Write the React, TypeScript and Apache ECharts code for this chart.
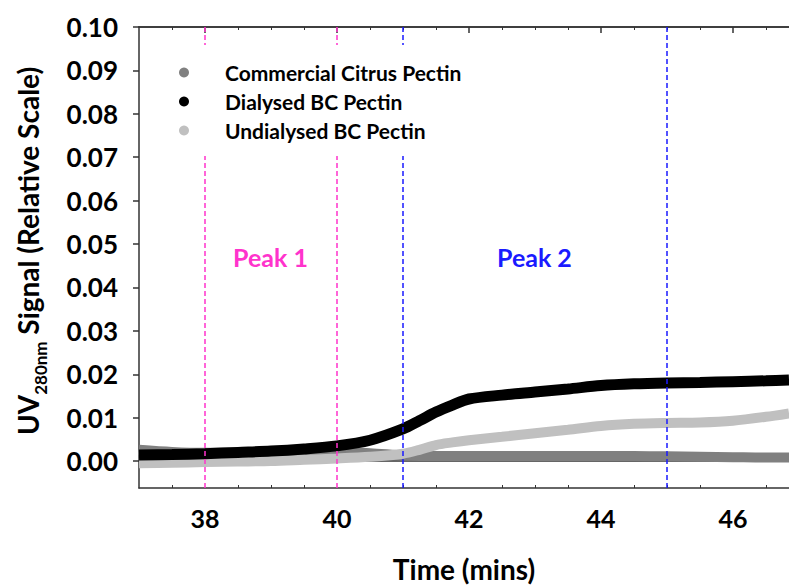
import React, { useEffect, useRef } from "react";
import * as echarts from "echarts";

const timeMins = [37, 37.5, 38, 38.5, 39, 39.5, 40, 40.5, 41, 41.25, 41.5, 41.75, 42, 42.5, 43, 43.5, 44, 44.5, 45, 45.5, 46, 46.5, 46.85];
const commercialCitrus = [0.0026, 0.0021, 0.0019, 0.0019, 0.0019, 0.002, 0.0021, 0.0018, 0.0013, 0.0012, 0.0012, 0.0012, 0.0012, 0.0012, 0.0012, 0.0012, 0.0012, 0.0012, 0.0011, 0.001, 0.0009, 0.0008, 0.0008];
const dialysedBC = [0.0014, 0.0015, 0.0017, 0.002, 0.0023, 0.0028, 0.0035, 0.0048, 0.0074, 0.0093, 0.0113, 0.0129, 0.0143, 0.0152, 0.0159, 0.0166, 0.0174, 0.0178, 0.018, 0.0181, 0.0183, 0.0185, 0.0187];
const undialysedBC = [-0.0005, -0.0004, -0.0002, -0.0001, 0.0, 0.0003, 0.0006, 0.001, 0.0017, 0.0026, 0.0037, 0.0043, 0.0048, 0.0056, 0.0064, 0.0072, 0.0081, 0.0086, 0.0088, 0.0089, 0.0093, 0.0102, 0.011];

const seriesNames = ["Commercial Citrus Pectin", "Dialysed BC Pectin", "Undialysed BC Pectin"];
const xMajorTicks = [38, 40, 42, 44, 46];
const xMinorTicks = [37.5, 38.5, 39, 39.5, 40.5, 41, 41.5, 42.5, 43, 43.5, 44.5, 45, 45.5, 46.5];
const yTicks = [0, 0.01, 0.02, 0.03, 0.04, 0.05, 0.06, 0.07, 0.08, 0.09, 0.1];
const peak1Bounds = [38, 40];
const peak2Bounds = [41, 45];
const peakLabels = ["Peak 1", "Peak 2"];
const peakLabelX = [39, 43];
const peakLabelY = 0.047;

const FONT = "Lato";
const MAGENTA = "#ff33cc";
const BLUE = "#1a1aff";
const AXIS = "#333333";

function pairs(ys: number[]) {
  return timeMins.map((x, i) => [x, ys[i]]);
}

export default function App() {
  const ref = useRef<HTMLDivElement>(null);
  useEffect(() => {
    if (!ref.current) return;
    const chart = echarts.init(ref.current, undefined, { renderer: "svg" });
    const xMin = 37;
    const xMax = 46.85;
    const baseX = {
      type: "value",
      min: xMin,
      max: xMax,
      splitLine: { show: false },
      axisLine: { show: true, lineStyle: { color: AXIS, width: 1.5 } },
    };
    const lineBase = {
      type: "line",
      smooth: 0.3,
      showSymbol: false,
      symbol: "circle",
      symbolSize: 10,
      silent: true,
    };
    chart.setOption({
      animation: false,
      grid: { left: 139, right: 0, top: 27, bottom: 98, containLabel: false, outerBoundsMode: "none" },
      legend: {
        orient: "vertical",
        left: 171,
        top: 45,
        padding: [17, 14, 15, 8],
        itemWidth: 72,
        itemHeight: 10,
        itemGap: 8,
        icon: "circle",
        backgroundColor: "#ffffff",
        z: 10,
        itemStyle: { borderWidth: 0 },
        textStyle: { fontSize: 21, fontWeight: "bold", fontFamily: FONT, color: "#000" },
        data: seriesNames,
      },
      xAxis: [
        {
          ...baseX,
          position: "bottom",
          axisTick: { show: true, inside: true, length: 6, customValues: xMajorTicks, lineStyle: { color: AXIS, width: 1.5 } },
          axisLabel: { customValues: xMajorTicks, fontSize: 25, fontWeight: "bold", fontFamily: FONT, color: "#000", margin: 17 },
          name: "Time (mins)",
          nameLocation: "middle",
          nameGap: 67,
          nameTextStyle: { fontSize: 28, fontWeight: "bold", fontFamily: FONT, color: "#000" },
        },
        {
          ...baseX,
          position: "bottom",
          axisTick: { show: true, inside: true, length: 3, customValues: xMinorTicks, lineStyle: { color: AXIS, width: 1 } },
          axisLabel: { show: false },
        },
        {
          ...baseX,
          position: "top",
          axisTick: { show: true, inside: true, length: 6, customValues: xMajorTicks, lineStyle: { color: AXIS, width: 1.5 } },
          axisLabel: { show: false },
        },
        {
          ...baseX,
          position: "top",
          axisTick: { show: true, inside: true, length: 3, customValues: xMinorTicks, lineStyle: { color: AXIS, width: 1 } },
          axisLabel: { show: false },
        },
      ],
      yAxis: {
        type: "value",
        min: -0.0062,
        max: 0.1,
        splitLine: { show: false },
        axisLine: { show: true, lineStyle: { color: AXIS, width: 1.5 } },
        axisTick: { show: true, inside: false, length: 6, customValues: yTicks, lineStyle: { color: AXIS, width: 1.5 } },
        axisLabel: {
          customValues: yTicks,
          formatter: (v: number) => v.toFixed(2),
          fontSize: 26,
          fontWeight: "bold",
          fontFamily: FONT,
          color: "#000",
          margin: 21,
        },
      },
      graphic: [
        {
          type: "text",
          x: 31,
          y: 251,
          rotation: Math.PI / 2,
          style: {
            text: "{a|UV}{b|280nm}{a| Signal (Relative Scale)}",
            align: "center",
            verticalAlign: "middle",
            rich: {
              a: { fontSize: 28, fontWeight: "bold", fontFamily: FONT, fill: "#000", verticalAlign: "bottom", padding: [0, 0, 7, 0] },
              b: { fontSize: 17, fontWeight: "bold", fontFamily: FONT, fill: "#000", verticalAlign: "bottom" },
            },
          },
        },
      ],
      series: [
        {
          ...lineBase,
          name: seriesNames[0],
          data: pairs(commercialCitrus),
          color: "#808080",
          lineStyle: { width: 10, color: "#808080" },
          z: 2,
        },
        {
          ...lineBase,
          name: seriesNames[2],
          data: pairs(undialysedBC),
          color: "#c0c0c0",
          lineStyle: { width: 10, color: "#c0c0c0" },
          z: 3,
        },
        {
          ...lineBase,
          name: seriesNames[1],
          data: pairs(dialysedBC),
          color: "#000000",
          lineStyle: { width: 11, color: "#000000" },
          z: 4,
          markLine: {
            silent: true,
            symbol: "none",
            label: { show: false },
            z: 5,
            data: [
              ...peak1Bounds.map((x) => ({ xAxis: x, lineStyle: { color: MAGENTA, width: 1.5, type: [5, 3] } })),
              ...peak2Bounds.map((x) => ({ xAxis: x, lineStyle: { color: BLUE, width: 1.5, type: [5, 3] } })),
            ],
          },
        },
        {
          type: "scatter",
          name: "peaks",
          silent: true,
          symbol: "circle",
          symbolSize: 1,
          itemStyle: { color: "#ffffff", opacity: 1 },
          z: 6,
          data: peakLabels.map((t, i) => ({
            value: [peakLabelX[i], peakLabelY],
            label: {
              show: true,
              position: [0, 0],
              align: "center",
              verticalAlign: "middle",
              formatter: t,
              color: i === 0 ? MAGENTA : BLUE,
              fontSize: 25,
              fontWeight: "bold",
              fontFamily: FONT,
              textBorderWidth: 0,
            },
          })),
        },
      ],
    });
    return () => chart.dispose();
  }, []);
  return <div ref={ref} style={{ position: "absolute", left: 0, top: 0, width: 789, height: 586 }} />;
}
